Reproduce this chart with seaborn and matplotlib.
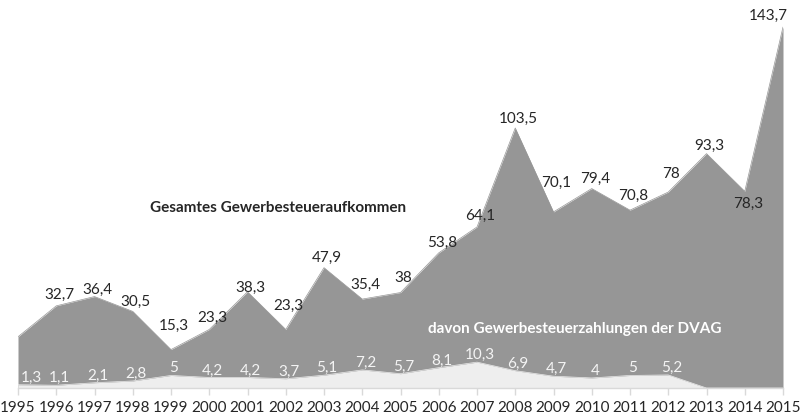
import numpy as np
import pandas as pd
import matplotlib
matplotlib.use("Agg")
import matplotlib.pyplot as plt
import seaborn as sns

# data (Mio. EUR)
years = list(range(1995, 2016))
total = [20.4, 32.7, 36.4, 30.5, 15.3, 23.3, 38.3, 23.3, 47.9, 35.4, 38,
         53.8, 64.1, 103.5, 70.1, 79.4, 70.8, 78, 93.3, 78.3, 143.7]
dvag = [1.3, 1.1, 2.1, 2.8, 5, 4.2, 4.2, 3.7, 5.1, 7.2, 5.7,
        8.1, 10.3, 6.9, 4.7, 4, 5, 5.2, 0, 0, 0]
total_labelled = [False] + [True] * 20
dvag_labelled = [True] * 18 + [False] * 3

# label placement (pixels) for the total series
total_dy = [0, 11, 7, 9, 24, 12, 4, 24, 10, 14, 15, 10, 11, 9, 29, 10, 14, 18, 8, -13, 11]
total_dx = [3] * 20 + [-15]

df = pd.DataFrame({"Jahr": years, "Gesamt": total, "DVAG": dvag})

sns.set_theme(style="white")
plt.rcParams["font.family"] = ["Lato", "DejaVu Sans"]

fig = plt.figure(figsize=(8.03, 4.16), dpi=100)
ax = fig.add_axes([18 / 803, 1 - 388 / 416, 765 / 803, 388 / 416])

total_col = "#969696"
dvag_col = "#eeeeee"

sns.lineplot(data=df, x="Jahr", y="Gesamt", ax=ax, color=total_col, linewidth=0.5)
ax.fill_between(df["Jahr"], df["Gesamt"], color=total_col, linewidth=0)
sns.lineplot(data=df, x="Jahr", y="DVAG", ax=ax, color=dvag_col, linewidth=0.5)
ax.fill_between(df["Jahr"], df["DVAG"], color=dvag_col, linewidth=0)

def fmt(v):
    s = ("%.1f" % v).replace(".", ",")
    return s[:-2] if s.endswith(",0") else s

fs = 11
for i, row in df.iterrows():
    if total_labelled[i]:
        ax.annotate(fmt(row["Gesamt"]), (row["Jahr"], row["Gesamt"]),
                    xytext=(total_dx[i], total_dy[i]), textcoords="offset pixels",
                    ha="center", va="center", fontsize=fs, color="#262626")
    if dvag_labelled[i]:
        dx = 13 if i == 0 else 3
        ax.annotate(fmt(row["DVAG"]), (row["Jahr"], row["DVAG"]),
                    xytext=(dx, 7), textcoords="offset pixels",
                    ha="center", va="center", fontsize=fs, color="#f4f4f4")

ax.text(2001.8, 71.7, "Gesamtes Gewerbesteueraufkommen", ha="center", va="center",
        fontsize=fs, fontweight="bold", color="#262626")
ax.text(2009.56, 23.5, "davon Gewerbesteuerzahlungen der DVAG", ha="center", va="center",
        fontsize=fs, fontweight="bold", color="white")

ax.set_xlim(1995, 2015)
ax.set_ylim(0, 388 / 2.512)
ax.set_xticks(years)
ax.set_xticklabels([str(y) for y in years])
ax.set_yticks([])
ax.set_xlabel("")
ax.set_ylabel("")
for s in ["top", "right", "left"]:
    ax.spines[s].set_visible(False)
ax.spines["bottom"].set_color("#d9d9d9")
ax.spines["bottom"].set_linewidth(1)
ax.tick_params(axis="x", bottom=True, length=5, width=1, color="#d9d9d9",
               labelsize=fs, labelcolor="#262626", pad=4)

fig.savefig("out.png", dpi=100)
